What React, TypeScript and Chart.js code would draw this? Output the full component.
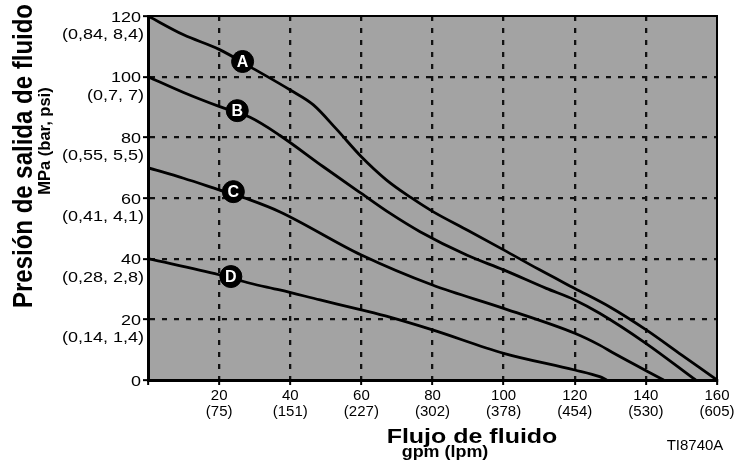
import React, { useEffect, useRef } from 'react';
import { Chart, registerables } from 'chart.js';

Chart.register(...registerables);

// ---- data ----
const flowTicks = [20, 40, 60, 80, 100, 120, 140, 160];
const lpmLabels = ['(75)', '(151)', '(227)', '(302)', '(378)', '(454)', '(530)', '(605)'];
const pressureTicks = [0, 20, 40, 60, 80, 100, 120];
const pressureSubLabels = ['', '(0,14, 1,4)', '(0,28, 2,8)', '(0,41, 4,1)', '(0,55, 5,5)', '(0,7, 7)', '(0,84, 8,4)'];

const flowA = [0, 10, 20, 30, 40, 46.5, 53, 60, 67, 74, 80, 90, 100, 110, 120, 130, 140, 150, 160];
const pressureA = [120, 113.8, 109, 102.4, 95.6, 90.7, 82.7, 73.6, 66, 60.1, 55.6, 49.3, 42.9, 36.4, 30.2, 24, 16.6, 8.3, 0];

const flowB = [0, 10, 20, 28.7, 37, 49.3, 60, 68, 76.5, 89.6, 100, 112, 120, 127, 140, 154];
const pressureB = [100, 94.8, 90.2, 86.6, 80.7, 70.3, 61.5, 55, 48.9, 41.2, 36.3, 30.2, 26.4, 22, 12.1, 0];

const flowC = [0, 10, 20, 28.7, 37, 60, 80, 100, 120, 127, 131, 145];
const pressureC = [70, 66.5, 62.7, 59.4, 55.5, 41.2, 31.3, 23.6, 15.4, 11.5, 8.8, 0];

const flowD = [0, 20, 28.7, 37, 48.4, 60, 68, 80, 100, 120, 127, 129];
const pressureD = [40, 34.7, 31.9, 29.7, 26.4, 23.1, 20.7, 16.5, 8.8, 3.3, 1.1, 0];

const markerLabels = ['A', 'B', 'C', 'D'];
const markerFlow = [26.6, 25.1, 24.0, 23.3];
const markerPressure = [105, 88.8, 62.1, 34.1];

const FONT = '"Liberation Sans", Arial, Helvetica, sans-serif';

function toPoints(xs: number[], ys: number[]) {
  return xs.map((x, i) => ({ x, y: ys[i] }));
}

function drawText(
  ctx: CanvasRenderingContext2D,
  text: string,
  x: number,
  y: number,
  font: string,
  align: CanvasTextAlign,
  sx: number
) {
  ctx.save();
  ctx.translate(x, y);
  ctx.scale(sx, 1);
  ctx.font = font;
  ctx.textAlign = align;
  ctx.textBaseline = 'alphabetic';
  ctx.fillStyle = '#000';
  ctx.fillText(text, 0, 0);
  ctx.restore();
}

const customPlugin = {
  id: 'customPlugin',
  beforeDraw(chart: any) {
    const { ctx, chartArea: a } = chart;
    ctx.save();
    ctx.fillStyle = '#a3a3a3';
    ctx.fillRect(a.left, a.top, a.right - a.left, a.bottom - a.top);
    ctx.restore();
  },
  afterDatasetsDraw(chart: any) {
    const { ctx } = chart;
    const meta = chart.getDatasetMeta(0);
    meta.data.forEach((pt: any, i: number) => {
      ctx.save();
      ctx.font = `bold 16px ${FONT}`;
      ctx.fillStyle = '#fff';
      ctx.textAlign = 'center';
      ctx.textBaseline = 'middle';
      ctx.fillText(markerLabels[i], pt.x, pt.y + 1);
      ctx.restore();
    });
  },
  afterDraw(chart: any) {
    const { ctx, chartArea: a, scales } = chart;
    // top & right frame
    ctx.save();
    ctx.strokeStyle = '#000';
    ctx.lineWidth = 2;
    ctx.beginPath();
    ctx.moveTo(a.left, a.top);
    ctx.lineTo(a.right, a.top);
    ctx.lineTo(a.right, a.bottom);
    ctx.stroke();
    ctx.restore();

    // y tick labels
    pressureTicks.forEach((v, i) => {
      const py = scales.y.getPixelForValue(v);
      drawText(ctx, String(v), 141, py + 5.5, `15px ${FONT}`, 'right', 1.2);
      if (pressureSubLabels[i]) {
        drawText(ctx, pressureSubLabels[i], 144, py + 23, `15px ${FONT}`, 'right', 1.2);
      }
    });

    // x tick labels
    flowTicks.forEach((v, i) => {
      const px = scales.x.getPixelForValue(v);
      drawText(ctx, String(v), px, 400, `15px ${FONT}`, 'center', 1);
      drawText(ctx, lpmLabels[i], px, 416, `15px ${FONT}`, 'center', 1);
    });

    // x title
    drawText(ctx, 'Flujo de fluido', 472, 443, `bold 21px ${FONT}`, 'center', 1.19);
    drawText(ctx, 'gpm (lpm)', 445, 457, `bold 16px ${FONT}`, 'center', 1.12);
    drawText(ctx, 'TI8740A', 695, 450, `14px ${FONT}`, 'center', 1.07);

    // y titles (rotated)
    ctx.save();
    ctx.translate(32, 156);
    ctx.scale(1.15, 1);
    ctx.rotate(-Math.PI / 2);
    ctx.font = `bold 24px ${FONT}`;
    ctx.textAlign = 'center';
    ctx.textBaseline = 'alphabetic';
    ctx.fillStyle = '#000';
    ctx.fillText('Presión de salida de fluido', 0, 0);
    ctx.restore();

    ctx.save();
    ctx.translate(50, 141);
    ctx.rotate(-Math.PI / 2);
    ctx.font = `bold 16.5px ${FONT}`;
    ctx.textAlign = 'center';
    ctx.textBaseline = 'alphabetic';
    ctx.fillStyle = '#000';
    ctx.fillText('MPa (bar, psi)', 0, 0);
    ctx.restore();
  },
};

export default function App() {
  const canvasRef = useRef<HTMLCanvasElement | null>(null);

  useEffect(() => {
    if (!canvasRef.current) return;
    const lineStyle = {
      borderColor: '#000',
      borderWidth: 2.8,
      pointRadius: 0,
      fill: false,
      tension: 0.4,
      cubicInterpolationMode: 'monotone' as const,
    };
    const gridColor = (edgeValues: number[]) => (c: any) =>
      c.tick && edgeValues.includes(c.tick.value) ? 'rgba(0,0,0,0)' : '#111';

    const chart = new Chart(canvasRef.current, {
      type: 'line',
      data: {
        datasets: [
          {
            label: 'markers',
            data: toPoints(markerFlow, markerPressure),
            showLine: false,
            pointRadius: 11,
            pointHoverRadius: 11,
            pointBackgroundColor: '#000',
            pointBorderColor: '#000',
            pointBorderWidth: 1,
          },
          { label: 'A', data: toPoints(flowA, pressureA), ...lineStyle },
          { label: 'B', data: toPoints(flowB, pressureB), ...lineStyle },
          { label: 'C', data: toPoints(flowC, pressureC), ...lineStyle },
          { label: 'D', data: toPoints(flowD, pressureD), ...lineStyle },
        ],
      },
      options: {
        responsive: false,
        devicePixelRatio: 1,
        animation: false,
        layout: { padding: { top: 16, right: 29, left: 0, bottom: 0 } },
        plugins: {
          legend: { display: false },
          tooltip: { enabled: false },
          title: { display: false },
        },
        events: [],
        scales: {
          x: {
            type: 'linear',
            min: 0,
            max: 160,
            afterFit: (s: any) => {
              s.height = 90;
            },
            ticks: { display: false, stepSize: 20 },
            grid: {
              color: gridColor([0, 160]),
              lineWidth: 2.3,
              drawTicks: true,
              tickLength: 5,
              tickColor: '#000',
              tickWidth: 2,
              tickBorderDash: [],
            },
            border: { display: true, color: '#000', width: 3, dash: [5, 7] },
          },
          y: {
            type: 'linear',
            min: 0,
            max: 120,
            afterFit: (s: any) => {
              s.width = 148;
            },
            ticks: { display: false, stepSize: 20 },
            grid: {
              color: gridColor([0, 120]),
              lineWidth: 2.3,
              drawTicks: true,
              tickLength: 5,
              tickColor: '#000',
              tickWidth: 2,
              tickBorderDash: [],
            },
            border: { display: true, color: '#000', width: 3, dash: [5, 7] },
          },
        },
      } as any,
      plugins: [customPlugin],
    });
    return () => chart.destroy();
  }, []);

  return (
    <div style={{ position: 'fixed', left: 0, top: 0, width: 746, height: 470, background: '#fff' }}>
      <canvas ref={canvasRef} width={746} height={470} style={{ display: 'block' }} />
    </div>
  );
}
